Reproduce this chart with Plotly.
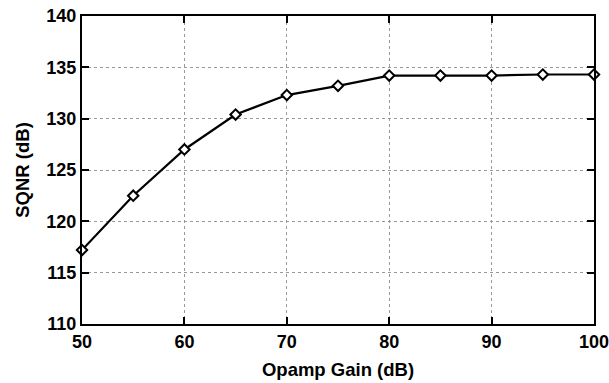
import plotly.graph_objects as go

gain_db = [50, 55, 60, 65, 70, 75, 80, 85, 90, 95, 100]
sqnr_db = [117.2, 122.5, 127.0, 130.4, 132.3, 133.2, 134.2, 134.2, 134.2, 134.3, 134.3]
x_ticks = [50, 60, 70, 80, 90, 100]
y_ticks = [110, 115, 120, 125, 130, 135, 140]

FONT = "Liberation Sans, Arial, sans-serif"

fig = go.Figure()
fig.add_trace(go.Scatter(
    x=gain_db, y=sqnr_db, mode="lines+markers",
    line=dict(color="black", width=2.2),
    marker=dict(symbol="diamond", size=8, color="white", line=dict(color="black", width=2)),
    cliponaxis=False,
))

axis_common = dict(
    showline=True, linecolor="black", linewidth=2, mirror="ticks",
    ticks="inside", ticklen=7, tickwidth=2, tickcolor="black",
    showgrid=True, gridcolor="#999999", griddash="dot", gridwidth=1,
    zeroline=False, automargin=False, ticklabeloverflow="allow",
    tickfont=dict(family=FONT, size=18, color="black"),
    tickmode="array",
)

fig.update_xaxes(range=[50, 100], tickvals=x_ticks, ticktext=[f"<b>{v}</b>" for v in x_ticks], **axis_common,
                 title=dict(text="<b>Opamp Gain (dB)</b>", font=dict(family=FONT, size=18.5, color="black"), standoff=12))
fig.update_yaxes(range=[110, 140], tickvals=y_ticks, ticktext=[f"<b>{v}</b>" for v in y_ticks], **axis_common,
                 title=dict(text="<b>SQNR (dB)</b>", font=dict(family=FONT, size=18.5, color="black"), standoff=12))

fig.update_layout(
    width=609, height=383,
    margin=dict(l=82, r=15, t=16, b=59),
    paper_bgcolor="white", plot_bgcolor="white",
    showlegend=False,
)

fig.write_html("out.html")
